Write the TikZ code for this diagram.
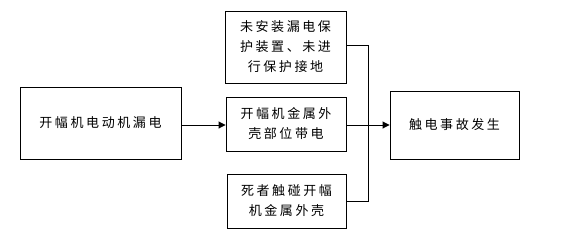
\documentclass[tikz,border=0pt]{standalone}
\usepackage{fontspec}
\newfontfamily\cjk[LetterSpace=20]{Noto Sans CJK SC}
\usetikzlibrary{arrows.meta}
\begin{document}
\begin{tikzpicture}[x=1pt,y=-1pt,
  box/.style={draw,line width=0.9pt,inner sep=0pt,align=center,
    font=\cjk\fontsize{13}{20}\selectfont},
  conn/.style={line width=0.9pt},
  arr/.style={conn,-{Triangle[length=7pt,width=7pt]}}]
\useasboundingbox (0,0) rectangle (578,239);
\node[box,minimum width=161,minimum height=72] (a) at (100.5,123) {开幅机电动机漏电};
\node[box,minimum width=121,minimum height=72] (b1) at (285.5,47) {未安装漏电保\\护装置、未进\\行保护接地};
\node[box,minimum width=120,minimum height=54] (b2) at (286,124) {开幅机金属外\\壳部位带电};
\node[box,minimum width=119,minimum height=54] (b3) at (286.5,201) {死者触碰开幅\\机金属外壳};
\node[box,minimum width=129,minimum height=68] (c) at (454.5,125) {触电事故发生};
\coordinate (bt) at (368,45);
\coordinate (bm) at (368,125);
\coordinate (bb) at (368,201);
\draw[arr] (a.east |- 0,125) -- (b2.west |- 0,125);
\draw[conn] (b1.east |- bt) -- (bt) -- (bb) -- (b3.east |- bb);
\draw[conn] (b2.east |- bm) -- (bm);
\draw[arr] (bm) -- (c.west |- bm);
\end{tikzpicture}
\end{document}
